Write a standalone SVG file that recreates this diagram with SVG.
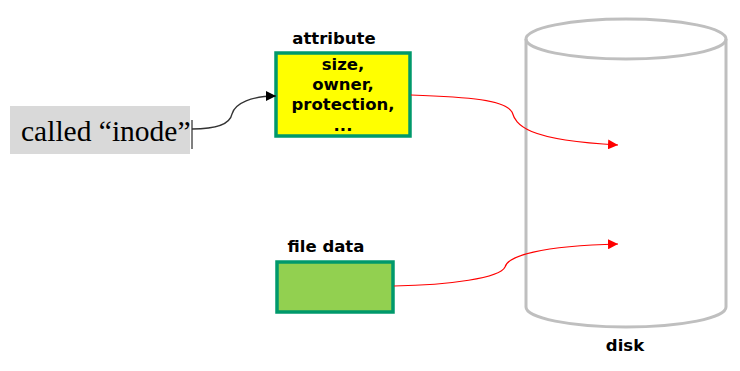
<svg xmlns="http://www.w3.org/2000/svg" width="740" height="371" viewBox="0 0 740 371">
<style>
.lbl{font-family:"DejaVu Sans",Verdana,sans-serif;font-weight:bold;font-size:16.5px;fill:#000;text-anchor:middle}
.box{stroke:#00996b;stroke-width:3.5}
.red{fill:none;stroke:#ff0000;stroke-width:1.2}
.cyl{fill:none;stroke:#bfbfbf;stroke-width:3}
</style>
<defs>
<marker id="ab" viewBox="0 0 10 10" refX="10" refY="5" markerWidth="10" markerHeight="10" markerUnits="userSpaceOnUse" orient="auto"><path d="M0,0 L10,5 L0,10 z" fill="#000"/></marker>
<marker id="ar" viewBox="0 0 10 10" refX="10" refY="5" markerWidth="10" markerHeight="10" markerUnits="userSpaceOnUse" orient="auto"><path d="M0,0 L10,5 L0,10 z" fill="#ff0000"/></marker>
</defs>
<rect width="740" height="371" fill="#fff"/>
<g id="disk">
<path class="cyl" d="M526,39 L526,307 A100,20 0 0 0 726,307 L726,39"/>
<ellipse class="cyl" cx="626" cy="39" rx="100" ry="20" fill="#fff"/>
<text class="lbl" x="625" y="351">disk</text>
</g>
<g id="inode-label">
<rect x="10" y="106" width="180" height="48" fill="#d9d9d9"/>
<text x="21" y="141" font-family="'Liberation Serif','Times New Roman',serif" font-size="29.5" fill="#000">called “inode”</text>
<line x1="192" y1="120" x2="192" y2="149" stroke="#000" stroke-width="1"/>
</g>
<g id="attribute">
<text class="lbl" x="334" y="44">attribute</text>
<rect class="box" x="276" y="53" width="134" height="83" fill="#ffff00"/>
<text class="lbl" x="343" y="70">size,</text>
<text class="lbl" x="343" y="90">owner,</text>
<text class="lbl" x="343" y="110">protection,</text>
<text class="lbl" x="343" y="130.5">...</text>
</g>
<g id="file-data">
<text class="lbl" x="326" y="252">file data</text>
<rect class="box" x="277" y="262" width="116" height="50" fill="#92d050"/>
</g>
<g id="connectors">
<path d="M192,129 C218,129 230,124 232,114 C235,103 252,96 276,96" fill="none" stroke="#333" stroke-width="1.3" marker-end="url(#ab)"/>
<path class="red" d="M411,95 C470,97 505,100 512,112 C516,125 525,140 618,145" marker-end="url(#ar)"/>
<path class="red" d="M394,286 C450,285 500,278 505,267 C508,256 540,246 618,244" marker-end="url(#ar)"/>
</g>
</svg>
